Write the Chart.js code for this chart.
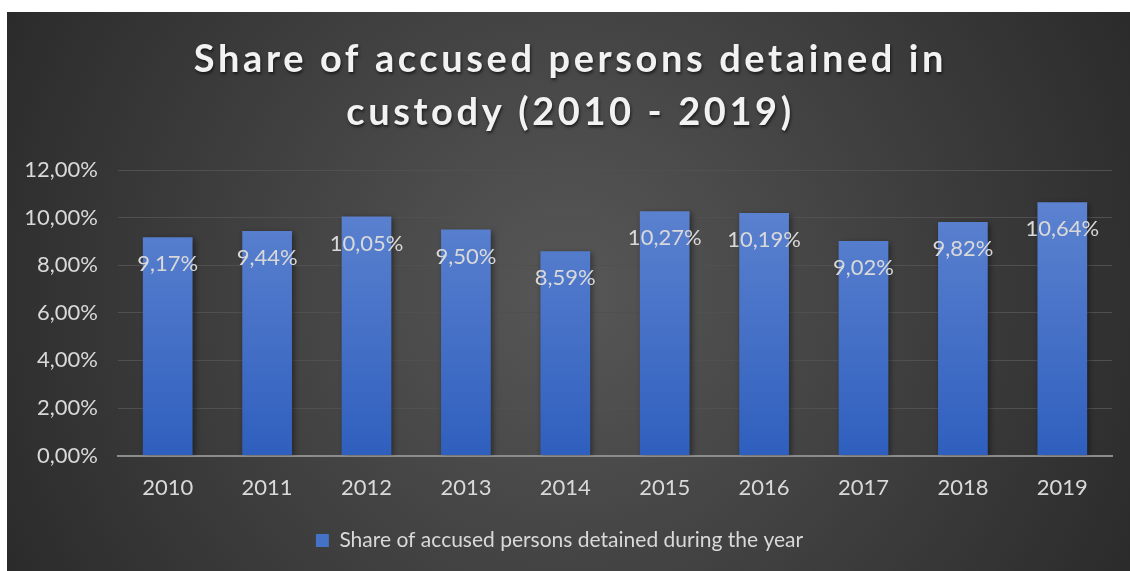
<!DOCTYPE html>
<html>
<head>
<meta charset="utf-8">
<script src="https://cdn.jsdelivr.net/npm/chart.js@4"></script>
<style>
  html, body { margin: 0; padding: 0; background: #fff; }
  #wrap { position: absolute; left: 7px; top: 12px; width: 1123px; height: 559px; }
</style>
</head>
<body>
<div id="wrap"><canvas id="custodyChart"></canvas></div>
<script>
// data
const years = ["2010", "2011", "2012", "2013", "2014", "2015", "2016", "2017", "2018", "2019"];
const detainedShare = [9.17, 9.44, 10.05, 9.50, 8.59, 10.27, 10.19, 9.02, 9.82, 10.64];
const seriesName = "Share of accused persons detained during the year";
const titleLines = ["Share of accused persons detained in", "custody (2010 - 2019)"];
const yMax = 12;
const yStep = 2;

const fontFamily = "Lato, 'Open Sans', sans-serif";
const fmt = (v) => v.toFixed(2).replace(".", ",") + "%";

const backgroundPlugin = {
  id: "bg",
  beforeDraw(chart) {
    const { ctx, width, height } = chart;
    const g = ctx.createRadialGradient(width * 0.5, height * 0.5, 0, width * 0.5, height * 0.5, width * 0.62);
    g.addColorStop(0, "#575757");
    g.addColorStop(1, "#262626");
    ctx.save();
    ctx.fillStyle = g;
    ctx.fillRect(0, 0, width, height);
    ctx.restore();
  }
};

const titlePlugin = {
  id: "spacedTitle",
  afterDraw(chart) {
    const ctx = chart.ctx;
    ctx.save();
    ctx.font = "bold 38px " + fontFamily;
    ctx.letterSpacing = "3.6px";
    ctx.textAlign = "center";
    ctx.textBaseline = "middle";
    ctx.fillStyle = "#f2f2f2";
    ctx.shadowColor = "rgba(0,0,0,0.6)";
    ctx.shadowBlur = 3;
    ctx.shadowOffsetX = 1;
    ctx.shadowOffsetY = 2;
    titleLines.forEach((line, i) => {
      ctx.fillText(line, chart.width / 2 + 2, 48 + i * 53);
    });
    ctx.restore();
  }
};

const barShadow = {
  id: "barShadow",
  beforeDatasetsDraw(chart) {
    const ctx = chart.ctx;
    ctx.save();
    ctx.shadowColor = "rgba(0,0,0,0.45)";
    ctx.shadowBlur = 6;
    ctx.shadowOffsetX = 2;
    ctx.shadowOffsetY = 2;
  },
  afterDatasetsDraw(chart) {
    chart.ctx.restore();
    const ctx = chart.ctx;
    const meta = chart.getDatasetMeta(0);
    ctx.save();
    ctx.font = "22px " + fontFamily;
    ctx.fillStyle = "#d9d9d9";
    ctx.textAlign = "center";
    ctx.textBaseline = "middle";
    meta.data.forEach((bar, i) => {
      ctx.fillText(fmt(detainedShare[i]), bar.x, bar.y + 27);
    });
    ctx.restore();
  }
};

const ctx = document.getElementById("custodyChart");

new Chart(ctx, {
  type: "bar",
  data: {
    labels: years,
    datasets: [
      {
        label: seriesName,
        data: detainedShare,
        backgroundColor: function(context) {
          const area = context.chart.chartArea;
          if (!area) return "#4472c4";
          const g = context.chart.ctx.createLinearGradient(0, area.top, 0, area.bottom);
          g.addColorStop(0, "#6287d2");
          g.addColorStop(1, "#2f5fbe");
          return g;
        },
        borderWidth: 0,
        categoryPercentage: 1,
        barPercentage: 0.5
      }
    ]
  },
  options: {
    responsive: true,
    maintainAspectRatio: false,
    animation: false,
    layout: {
      padding: { top: 158, right: 18, left: 0, bottom: 10 }
    },
    scales: {
      y: {
        min: 0,
        max: yMax,
        ticks: {
          stepSize: yStep,
          color: "#d9d9d9",
          font: { family: fontFamily, size: 22 },
          padding: 20,
          callback: (v) => fmt(v)
        },
        grid: { color: "#505050", lineWidth: 1, drawTicks: false },
        border: { display: false },
        afterFit(scale) { scale.width = 111; }
      },
      x: {
        ticks: {
          color: "#d9d9d9",
          font: { family: fontFamily, size: 22 },
          padding: 11
        },
        grid: { display: false },
        border: { color: "#8c8c8c", width: 2 }
      }
    },
    plugins: {
      legend: {
        position: "bottom",
        labels: {
          color: "#d9d9d9",
          font: { family: fontFamily, size: 21 },
          boxWidth: 13,
          boxHeight: 13,
          padding: 18,
          generateLabels: () => [{
            text: seriesName,
            fillStyle: "#4472c4",
            strokeStyle: "#4472c4",
            lineWidth: 0,
            fontColor: "#d9d9d9"
          }]
        }
      },
      tooltip: { enabled: false }
    }
  },
  plugins: [backgroundPlugin, barShadow, titlePlugin]
});
</script>
</body>
</html>
